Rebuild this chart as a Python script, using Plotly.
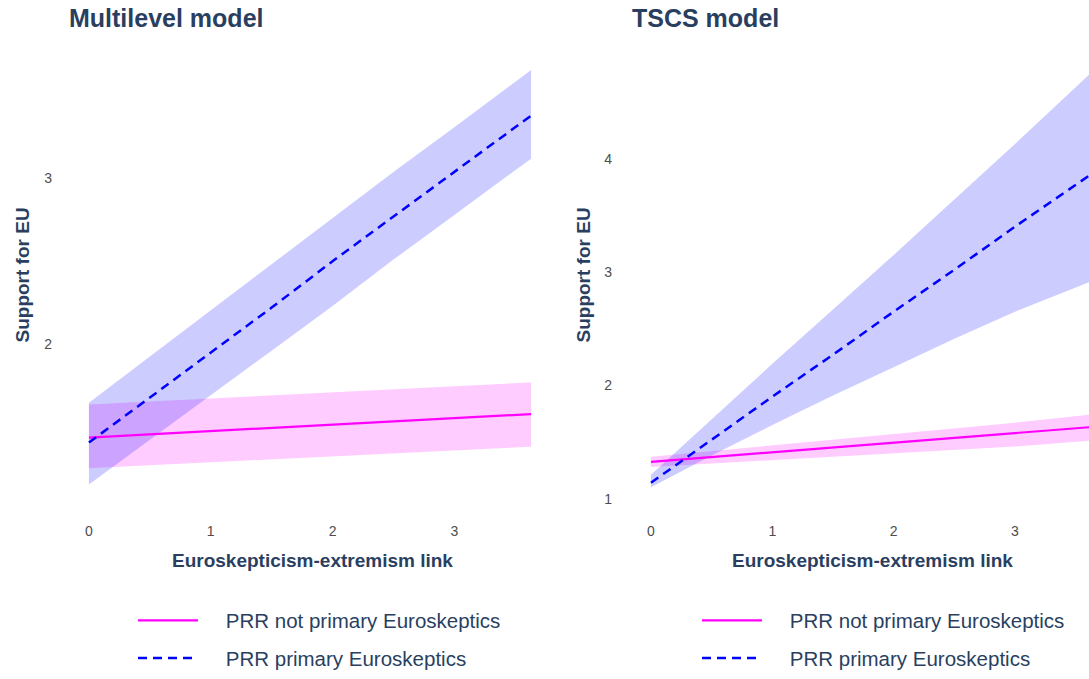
import plotly.graph_objects as go

# ---------------- data ----------------
# Multilevel model
ml_x = [0.0, 0.5, 1.0, 1.5, 2.0, 2.5, 3.0, 3.63]
ml_not_fit = [1.435, 1.455, 1.474, 1.494, 1.513, 1.533, 1.552, 1.577]
ml_not_lo = [1.25, 1.268, 1.286, 1.304, 1.322, 1.340, 1.358, 1.38]
ml_not_hi = [1.635, 1.653, 1.671, 1.689, 1.707, 1.725, 1.743, 1.768]
ml_prim_fit = [1.405, 1.675, 1.95, 2.22, 2.50, 2.77, 3.04, 3.38]
ml_prim_lo = [1.152, 1.42, 1.69, 1.96, 2.23, 2.51, 2.78, 3.12]
ml_prim_hi = [1.645, 1.925, 2.20, 2.48, 2.76, 3.04, 3.31, 3.655]

# TSCS model
ts_x = [0.0, 0.5, 1.0, 1.5, 2.0, 2.5, 3.0, 3.61]
ts_not_fit = [1.325, 1.367, 1.408, 1.45, 1.492, 1.533, 1.575, 1.63]
ts_not_lo = [1.28, 1.31, 1.34, 1.37, 1.40, 1.43, 1.46, 1.51]
ts_not_hi = [1.37, 1.42, 1.47, 1.52, 1.57, 1.62, 1.67, 1.74]
ts_prim_fit = [1.14, 1.52, 1.90, 2.27, 2.65, 3.02, 3.40, 3.85]
ts_prim_lo = [1.10, 1.38, 1.65, 1.91, 2.16, 2.41, 2.65, 2.91]
ts_prim_hi = [1.21, 1.70, 2.19, 2.67, 3.15, 3.64, 4.13, 4.74]

names = ["PRR not primary Euroskeptics", "PRR primary Euroskeptics"]
panel_titles = ["Multilevel model", "TSCS model"]
x_title = "Euroskepticism-extremism link"
y_title = "Support for EU"
x_ticks = [0, 1, 2, 3]
ml_y_ticks = [2, 3]
ts_y_ticks = [1, 2, 3, 4]

# ---------------- figure ----------------
W, H = 1089, 679
TXT = "#2a3f5f"
FONT = "Liberation Sans, Arial, sans-serif"
MAG = "rgb(255,0,255)"
BLUE = "rgb(0,0,255)"
MAG_F = "rgba(255,0,255,0.2)"
BLUE_F = "rgba(0,0,255,0.2)"
PAD = "\u00a0" * 4

fig = go.Figure()


def add_panel(xs, nf, nlo, nhi, pf, plo, phi, xa, ya, leg):
    # ribbons
    fig.add_trace(go.Scatter(x=xs, y=nlo, xaxis=xa, yaxis=ya, mode="lines",
                             line=dict(width=0), showlegend=False, hoverinfo="skip"))
    fig.add_trace(go.Scatter(x=xs, y=nhi, xaxis=xa, yaxis=ya, mode="lines",
                             line=dict(width=0), fill="tonexty", fillcolor=MAG_F,
                             showlegend=False, hoverinfo="skip"))
    fig.add_trace(go.Scatter(x=xs, y=plo, xaxis=xa, yaxis=ya, mode="lines",
                             line=dict(width=0), showlegend=False, hoverinfo="skip"))
    fig.add_trace(go.Scatter(x=xs, y=phi, xaxis=xa, yaxis=ya, mode="lines",
                             line=dict(width=0), fill="tonexty", fillcolor=BLUE_F,
                             showlegend=False, hoverinfo="skip"))
    # fits
    fig.add_trace(go.Scatter(x=xs, y=nf, xaxis=xa, yaxis=ya, mode="lines",
                             line=dict(color=MAG, width=2.2), name=PAD + names[0],
                             legend=leg, legendgroup=leg + "a"))
    fig.add_trace(go.Scatter(x=xs, y=pf, xaxis=xa, yaxis=ya, mode="lines",
                             line=dict(color=BLUE, width=2.5, dash="9px,6px"),
                             name=PAD + names[1], legend=leg, legendgroup=leg + "b"))


add_panel(ml_x, ml_not_fit, ml_not_lo, ml_not_hi, ml_prim_fit, ml_prim_lo, ml_prim_hi,
          "x", "y", "legend")
add_panel(ts_x, ts_not_fit, ts_not_lo, ts_not_hi, ts_prim_fit, ts_prim_lo, ts_prim_hi,
          "x2", "y2", "legend2")

# plot areas in pixels
L1, R1 = 67, 553
L2, R2 = 629, 1089
TOP, BOT = 48, 525.5
ydom = [1 - BOT / H, 1 - TOP / H]

axis_common = dict(showgrid=False, zeroline=False, showline=False,
                   tickfont=dict(size=14, color="#4d4d4d", family=FONT),
                   ticks="")

legend_common = dict(xanchor="left", yanchor="top", y=1 - 617 / H,
                     font=dict(size=20.5, color=TXT, family=FONT), itemwidth=60,
                     tracegroupgap=8, bgcolor="rgba(0,0,0,0)")

fig.update_layout(
    width=W, height=H,
    margin=dict(l=0, r=0, t=0, b=0),
    paper_bgcolor="white", plot_bgcolor="white",
    font=dict(family=FONT, color=TXT),
    xaxis=dict(domain=[L1 / W, R1 / W], range=[-0.18, 3.81], tickvals=x_ticks,
               anchor="y", ticklabelstandoff=9, **axis_common),
    yaxis=dict(domain=ydom, range=[0.988, 3.796], tickvals=ml_y_ticks, anchor="x",
               ticklabelstandoff=14, **axis_common),
    xaxis2=dict(domain=[L2 / W, R2 / W], range=[-0.181, 3.61], tickvals=x_ticks,
                anchor="y2", ticklabelstandoff=9, **axis_common),
    yaxis2=dict(domain=ydom, range=[0.886, 4.988], tickvals=ts_y_ticks, anchor="x2",
                ticklabelstandoff=16, **axis_common),
    legend=dict(x=133 / W, **legend_common),
    legend2=dict(x=697 / W, **legend_common),
    showlegend=True,
)

ann = []
for title, left in zip(panel_titles, [67, 630]):
    ann.append(dict(text="<b>" + title + "</b>", x=left / W, y=1 - 18 / H,
                    xref="paper", yref="paper", xanchor="left", yanchor="middle",
                    showarrow=False, font=dict(size=25, color=TXT, family=FONT)))
for cx in [312, 872]:
    ann.append(dict(text="<b>" + x_title + "</b>", x=cx / W, y=1 - 576 / H,
                    xref="paper", yref="paper", xanchor="center", yanchor="middle",
                    showarrow=False, font=dict(size=19, color=TXT, family=FONT)))
for cx in [22, 583]:
    ann.append(dict(text="<b>" + y_title + "</b>", x=cx / W, y=1 - 283 / H,
                    xref="paper", yref="paper", xanchor="center", yanchor="middle",
                    textangle=-90, showarrow=False,
                    font=dict(size=19, color=TXT, family=FONT)))
fig.update_layout(annotations=ann)

fig.write_html("out.html", config={"displayModeBar": False},
               post_script="document.body.style.margin='0px';")
